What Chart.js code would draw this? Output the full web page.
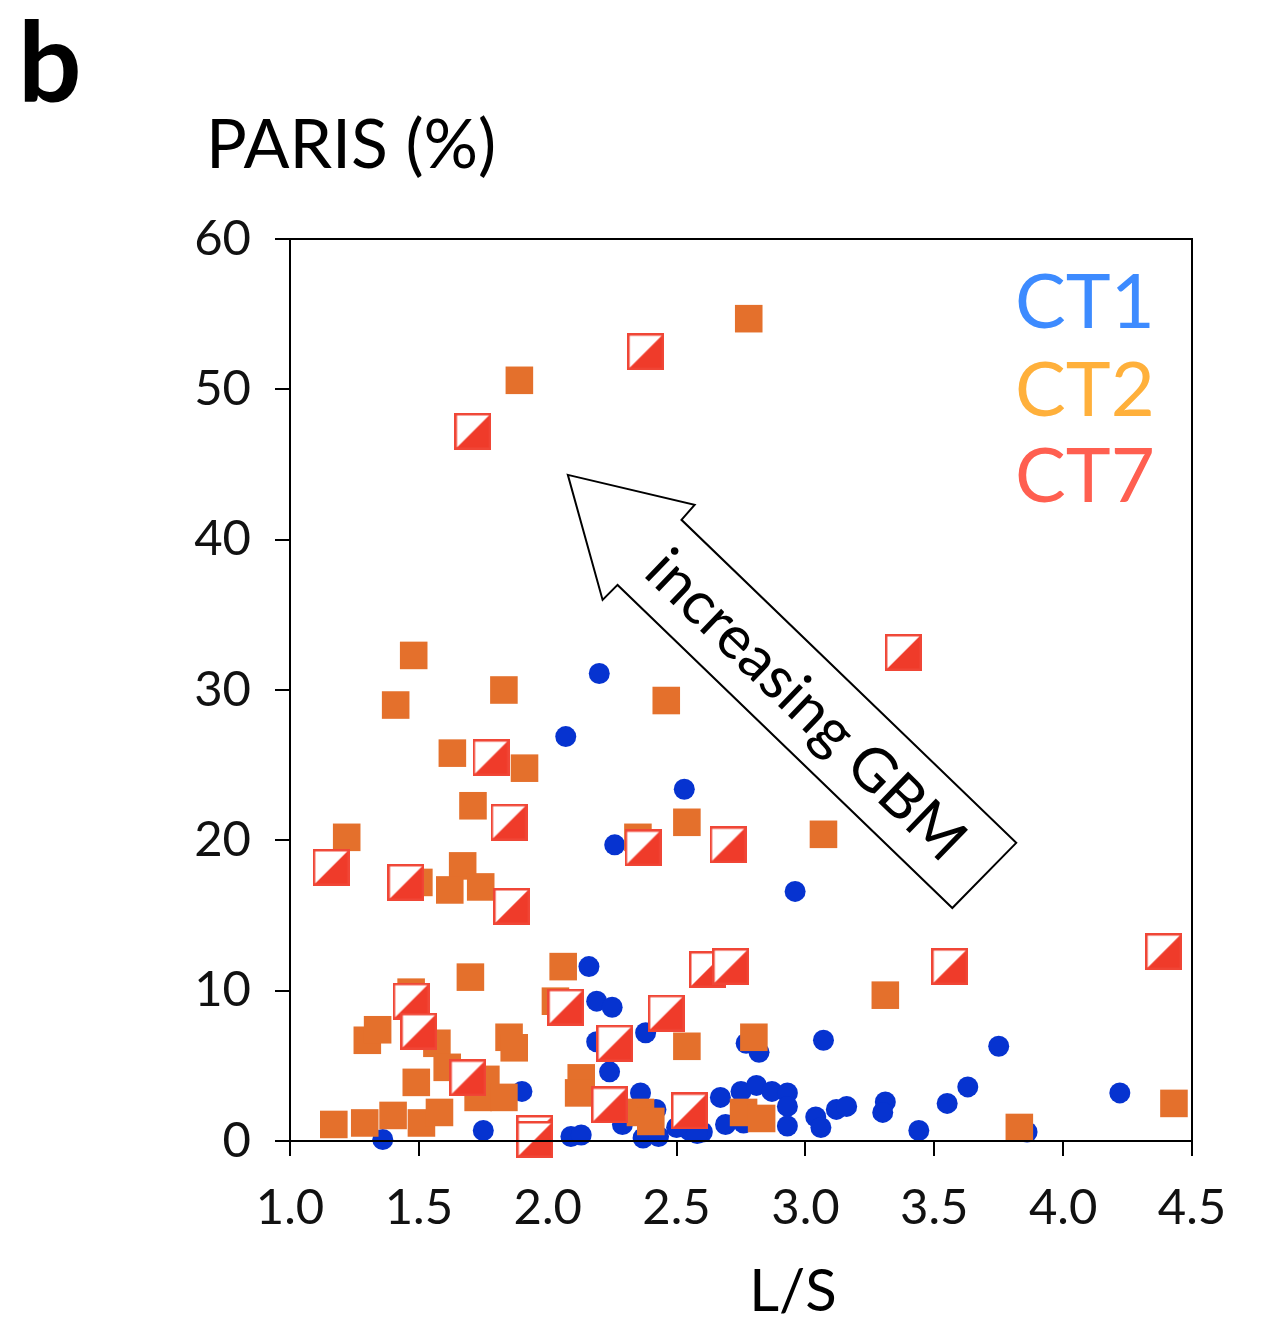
<!DOCTYPE html>
<html>
<head>
<meta charset="utf-8">
<script src="https://cdn.jsdelivr.net/npm/chart.js@4/dist/chart.umd.min.js"></script>
<style>
  html, body { margin: 0; padding: 0; background: #fff; }
  #wrap { position: relative; width: 1261px; height: 1325px; }
</style>
</head>
<body>
<div id="wrap"><canvas id="c" width="1261" height="1325"></canvas></div>
<script>
// L/S ratio vs PARIS (%) for three cell types
const ct1X = [2.20, 2.07, 2.53, 2.26, 2.96, 2.16, 2.19, 2.25, 2.38, 2.19, 2.77, 2.82, 3.07, 3.75, 2.24, 1.90,
              2.36, 2.42, 2.29, 2.09, 2.13, 2.37, 2.43, 2.55, 2.60, 2.67, 2.69, 2.75, 2.76, 2.81, 2.87, 2.93,
              2.93, 2.93, 3.04, 3.06, 3.12, 3.16, 3.31, 3.30, 3.44, 3.55, 3.63, 3.86, 4.22, 1.75, 1.36, 2.50, 2.58];
const ct1Y = [31.1, 26.9, 23.4, 19.7, 16.6, 11.6, 9.3, 8.9, 7.2, 6.6, 6.5, 5.9, 6.7, 6.3, 4.6, 3.3,
              3.2, 2.1, 1.1, 0.3, 0.4, 0.2, 0.3, 0.7, 0.6, 2.9, 1.1, 3.3, 1.2, 3.7, 3.3, 3.2,
              2.3, 1.0, 1.6, 0.9, 2.1, 2.3, 2.6, 1.9, 0.7, 2.5, 3.6, 0.6, 3.2, 0.7, 0.1, 0.9, 0.5];

const ct2X = [2.78, 1.89, 1.48, 1.41, 1.83, 2.46, 1.63, 1.91, 1.71, 1.22, 2.54, 3.07, 2.35, 1.67, 1.62, 1.74,
              1.50, 2.06, 1.70, 3.31, 2.03, 1.47, 1.30, 1.34, 1.57, 1.61, 1.49, 1.76, 1.73, 1.83, 1.85, 1.87,
              2.13, 2.12, 2.54, 2.36, 2.40, 2.80, 2.76, 2.83, 3.83, 4.43, 1.17, 1.29, 1.40, 1.51, 1.58];
const ct2Y = [54.7, 50.6, 32.3, 29.0, 30.0, 29.3, 25.8, 24.8, 22.3, 20.2, 21.2, 20.4, 20.2, 18.3, 16.7, 16.9,
              17.2, 11.6, 10.9, 9.7, 9.3, 9.9, 6.7, 7.4, 6.5, 4.9, 3.9, 4.1, 2.9, 2.9, 6.9, 6.2,
              4.2, 3.2, 6.3, 1.9, 1.3, 6.9, 1.9, 1.5, 0.9, 2.5, 1.1, 1.2, 1.7, 1.2, 1.9];

const ct7X = [2.38, 1.71, 3.38, 1.78, 1.85, 1.16, 1.45, 1.86, 2.37, 2.70, 4.39, 3.56, 2.62, 2.71, 2.46, 2.07,
              1.47, 1.50, 2.26, 1.69, 2.24, 2.55, 1.95, 1.95];
const ct7Y = [52.5, 47.2, 32.5, 25.5, 21.2, 18.2, 17.2, 15.6, 19.5, 19.7, 12.6, 11.6, 11.4, 11.6, 8.5, 8.9,
              9.3, 7.3, 6.5, 4.2, 2.4, 2.0, 0.5, 0.1];

const seriesNames = ['CT1', 'CT2', 'CT7'];
const xTickLabels = ['1.0', '1.5', '2.0', '2.5', '3.0', '3.5', '4.0', '4.5'];
const yTickLabels = ['0', '10', '20', '30', '40', '50', '60'];

// "increasing GBM" block arrow outline, in axis units (tip first)
const arrowX = [2.078, 2.570, 2.519, 3.818, 3.570, 2.271, 2.213];
const arrowY = [44.31, 42.32, 41.32, 19.83, 15.50, 36.99, 35.99];

const FONT = 'Lato, "Open Sans", "DejaVu Sans", sans-serif';
const BLUE = '#0633d0';
const ORANGE = '#e4702c';
const RED = '#ef3b2a';

const toPoints = (xs, ys) => xs.map((x, i) => ({ x: x, y: ys[i] }));

// Half-filled square marker used for CT7
function makeHalfSquare(size) {
  const cv = document.createElement('canvas');
  cv.width = size; cv.height = size;
  const g = cv.getContext('2d');
  g.fillStyle = '#ffffff';
  g.fillRect(0, 0, size, size);
  g.fillStyle = RED;
  g.beginPath();
  g.moveTo(0, size); g.lineTo(size, size); g.lineTo(size, 0); g.closePath();
  g.fill();
  g.strokeStyle = '#f04636';
  g.lineWidth = 2.5;
  g.strokeRect(1.25, 1.25, size - 2.5, size - 2.5);
  return cv;
}
const halfSquare = makeHalfSquare(37);

const decorations = {
  id: 'decorations',
  beforeDatasetsDraw(chart) {
    const { ctx, scales: { x, y } } = chart;
    ctx.save();
    ctx.beginPath();
    arrowX.forEach((v, i) => {
      const px = x.getPixelForValue(v), py = y.getPixelForValue(arrowY[i]);
      if (i === 0) ctx.moveTo(px, py); else ctx.lineTo(px, py);
    });
    ctx.closePath();
    ctx.fillStyle = '#fff';
    ctx.fill();
    ctx.strokeStyle = '#000';
    ctx.lineWidth = 2;
    ctx.lineJoin = 'miter';
    ctx.stroke();

    // label along the arrow shaft
    const p = (i) => [x.getPixelForValue(arrowX[i]), y.getPixelForValue(arrowY[i])];
    const a1 = p(2), a2 = p(3), b1 = p(5), b2 = p(4);
    const s0 = [(a1[0] + b1[0]) / 2, (a1[1] + b1[1]) / 2];
    const s1 = [(a2[0] + b2[0]) / 2, (a2[1] + b2[1]) / 2];
    const ang = Math.atan2(s1[1] - s0[1], s1[0] - s0[0]);
    const cx = s0[0] + (s1[0] - s0[0]) * 0.47;
    const cy = s0[1] + (s1[1] - s0[1]) * 0.47;
    ctx.translate(cx, cy);
    ctx.rotate(ang);
    ctx.fillStyle = '#000';
    ctx.font = '60px ' + FONT;
    ctx.textAlign = 'center';
    ctx.textBaseline = 'middle';
    ctx.fillText('increasing GBM', 0, 2);
    ctx.restore();
  },
  afterDraw(chart) {
    const { ctx, chartArea: a } = chart;
    ctx.save();
    ctx.strokeStyle = '#000';
    ctx.lineWidth = 2;
    ctx.strokeRect(a.left, a.top, a.right - a.left, a.bottom - a.top);

    ctx.fillStyle = '#000';
    ctx.textBaseline = 'alphabetic';
    ctx.textAlign = 'left';
    ctx.font = 'bold 112px ' + FONT;
    ctx.fillText('b', 18, 102);
    ctx.font = '68px ' + FONT;
    ctx.fillText('PARIS (%)', 206, 168);
    ctx.textAlign = 'center';
    ctx.font = '58px ' + FONT;
    ctx.fillText('L/S', (a.left + a.right) / 2 + 52, 1311);

    // series key
    const keyColors = ['#3d8bff', '#ffb03b', '#ff5f50'];
    const keyBase = [328, 416, 502];
    ctx.textAlign = 'left';
    ctx.font = '76px ' + FONT;
    seriesNames.forEach((n, i) => {
      ctx.fillStyle = keyColors[i];
      ctx.fillText(n, 1015, keyBase[i]);
    });
    ctx.restore();
  }
};

new Chart(document.getElementById('c'), {
  type: 'scatter',
  data: {
    datasets: [
      { label: seriesNames[0], data: toPoints(ct1X, ct1Y), order: 3,
        pointStyle: 'circle', pointRadius: 10.5, backgroundColor: BLUE, borderColor: BLUE, borderWidth: 0 },
      { label: seriesNames[1], data: toPoints(ct2X, ct2Y), order: 2,
        pointStyle: 'rect', pointRadius: 19.5, backgroundColor: ORANGE, borderColor: ORANGE, borderWidth: 0 },
      { label: seriesNames[2], data: toPoints(ct7X, ct7Y), order: 1,
        pointStyle: halfSquare, pointRadius: 18, backgroundColor: RED, borderColor: RED, borderWidth: 0 }
    ]
  },
  options: {
    responsive: false,
    animation: false,
    devicePixelRatio: 1,
    clip: false,
    layout: { padding: { left: 0, top: 239, right: 69, bottom: 0 } },
    plugins: { legend: { display: false }, tooltip: { enabled: false } },
    scales: {
      x: {
        type: 'linear', min: 1, max: 4.5,
        afterFit: (s) => { s.height = 184; },
        border: { display: true, color: '#000', width: 2 },
        grid: { drawOnChartArea: false, drawTicks: true, tickLength: 15, color: '#000', lineWidth: 2 },
        ticks: {
          stepSize: 0.5, padding: 23, color: '#111',
          font: { family: FONT, size: 49 },
          callback: (v) => xTickLabels[Math.round((v - 1) * 2)]
        }
      },
      y: {
        type: 'linear', min: 0, max: 60,
        afterFit: (s) => { s.width = 290; },
        border: { display: true, color: '#000', width: 2 },
        grid: { drawOnChartArea: false, drawTicks: true, tickLength: 15, color: '#000', lineWidth: 2 },
        ticks: {
          stepSize: 10, padding: 24, color: '#111',
          font: { family: FONT, size: 49 },
          callback: (v) => yTickLabels[Math.round(v / 10)]
        }
      }
    }
  },
  plugins: [decorations]
});
</script>
</body>
</html>
